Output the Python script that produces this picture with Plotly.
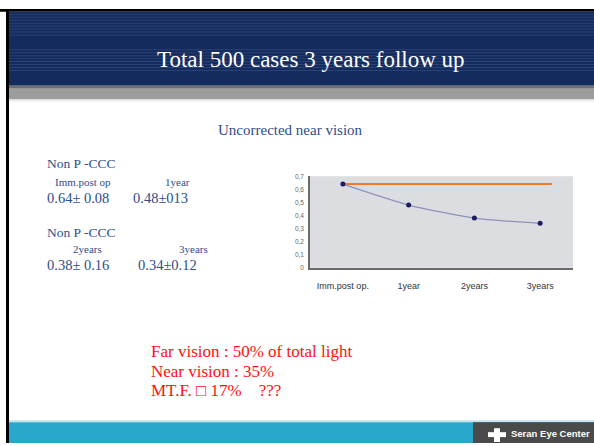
import plotly.graph_objects as go

W, H = 594, 446

# ---- data ----
stages = ["Imm.post op.", "1year", "2years", "3years"]
near_vision = [0.64, 0.48, 0.38, 0.34]
reference_level = [0.64, 0.64]
reference_span = [0, 3.18]
y_ticks = [0, 0.1, 0.2, 0.3, 0.4, 0.5, 0.6, 0.7]
y_tick_text = ["0", "0,1", "0,2", "0,3", "0,4", "0,5", "0,6", "0,7"]

title_text = "Total 500 cases 3 years follow up"
subtitle_text = "Uncorrected near vision"
footer_text = "Seran Eye Center"


def fx(x):
    return x / W


def fy(y):
    return 1 - y / H


x_idx = list(range(len(stages)))

fig = go.Figure()
fig.add_trace(go.Scatter(
    x=reference_span, y=reference_level, mode="lines",
    line=dict(color="#f07a2a", width=2), hoverinfo="skip", showlegend=False))
fig.add_trace(go.Scatter(
    x=x_idx, y=near_vision, mode="lines+markers",
    line=dict(color="#8e93b8", width=1.3, shape="spline", smoothing=0.6),
    marker=dict(color="#1c1c66", size=5), showlegend=False))

shapes = []
# top black line
shapes.append(dict(type="rect", xref="paper", yref="paper", x0=0, x1=1,
                   y0=fy(8), y1=fy(5), fillcolor="#000", line_width=0, layer="below"))
# navy title bar
shapes.append(dict(type="rect", xref="paper", yref="paper", x0=fx(9), x1=1,
                   y0=fy(83), y1=fy(8), fillcolor="#142b5e", line_width=0, layer="below"))
for y in list(range(10, 33, 3)) + list(range(46, 68, 3)):
    shapes.append(dict(type="rect", xref="paper", yref="paper", x0=fx(9), x1=1,
                       y0=fy(y + 1), y1=fy(y), fillcolor="#2b4276", line_width=0, layer="below"))
# grey band under title
shapes.append(dict(type="rect", xref="paper", yref="paper", x0=fx(9), x1=1,
                   y0=fy(86), y1=fy(83), fillcolor="#6f6f6f", line_width=0, layer="below"))
shapes.append(dict(type="rect", xref="paper", yref="paper", x0=fx(9), x1=1,
                   y0=fy(97), y1=fy(86), fillcolor="#9d9d9d", line_width=0, layer="below"))
shapes.append(dict(type="rect", xref="paper", yref="paper", x0=fx(9), x1=1,
                   y0=fy(99), y1=fy(97), fillcolor="#ececec", line_width=0, layer="below"))
# footer band
shapes.append(dict(type="rect", xref="paper", yref="paper", x0=fx(9), x1=1,
                   y0=fy(425), y1=fy(423), fillcolor="#bfe5ef", line_width=0, layer="below"))
shapes.append(dict(type="rect", xref="paper", yref="paper", x0=fx(9), x1=1,
                   y0=0, y1=fy(425), fillcolor="#2aa8cb", line_width=0, layer="below"))
shapes.append(dict(type="rect", xref="paper", yref="paper", x0=fx(473), x1=1,
                   y0=0, y1=fy(425), fillcolor="#4a4a4a", line_width=0, layer="below"))
# white cross logo
shapes.append(dict(type="rect", xref="paper", yref="paper", x0=fx(494), x1=fx(500),
                   y0=fy(445), y1=fy(431), fillcolor="#ffffff", line_width=0))
shapes.append(dict(type="rect", xref="paper", yref="paper", x0=fx(488), x1=fx(506),
                   y0=fy(440), y1=fy(435), fillcolor="#ffffff", line_width=0))
# left black border
shapes.append(dict(type="rect", xref="paper", yref="paper", x0=fx(6), x1=fx(9),
                   y0=0, y1=fy(5), fillcolor="#000", line_width=0))

blue = "#2f4d8a"
serif = "Liberation Serif, Times New Roman, serif"
anns = []


def txt(x, y, s, size, color=blue, anchor="left", family=serif, bold=False):
    anns.append(dict(xref="paper", yref="paper", x=fx(x), y=fy(y), text=(f"<b>{s}</b>" if bold else s),
                     showarrow=False, xanchor=anchor, yanchor="middle",
                     font=dict(family=family, size=size, color=color)))


txt(311, 56, title_text, 23, color="#ffffff", anchor="center")
txt(290, 128, subtitle_text, 15, anchor="center")
txt(45, 162, "Non P -CCC", 13.5)
txt(53, 181, "Imm.post op", 11)
txt(163, 181, "1year", 11)
txt(45, 197, "0.64± 0.08", 14.5)
txt(131, 197, "0.48±013", 14.5)
txt(45, 232, "Non P -CCC", 13.5)
txt(71, 249, "2years", 11)
txt(177, 249, "3years", 11)
txt(45, 265, "0.38± 0.16", 14.5)
txt(136, 265, "0.34±0.12", 14.5)

red = "#ff1010"
txt(149, 353, "Far vision : 50% of total light", 17, color=red)
txt(149, 373, "Near vision : 35%", 17, color=red)
txt(149, 393, "MT.F. □ 17%&nbsp;&nbsp;&nbsp; ???", 17, color=red)

txt(592, 436, footer_text, 9.5, color="#ffffff", anchor="right",
    family="Liberation Sans Narrow, Liberation Sans, Arial", bold=True)

fig.update_layout(
    width=W, height=H, margin=dict(l=0, r=0, t=0, b=0),
    paper_bgcolor="#ffffff", plot_bgcolor="#dcdde1",
    shapes=shapes, annotations=anns, showlegend=False,
    xaxis=dict(domain=[fx(310), fx(573)], range=[-0.5, 3.5],
               tickvals=x_idx, ticktext=stages, showgrid=False, zeroline=False,
               showline=True, linecolor="#6a6a6a", linewidth=1.5, ticks="",
               ticklabelstandoff=9,
               tickfont=dict(family="Liberation Sans, Arial", size=9, color="#333")),
    yaxis=dict(domain=[fy(268), fy(175)], range=[0, 0.7],
               tickvals=y_ticks, ticktext=y_tick_text, showgrid=False, zeroline=False,
               showline=True, linecolor="#6a6a6a", linewidth=1.5, ticks="",
               ticklabelstandoff=3,
               tickfont=dict(family="Liberation Sans, Arial", size=6.5, color="#666")),
)

fig.write_html("out.html", config={"displayModeBar": False},
               post_script="document.body.style.margin='0';document.body.style.padding='0';")
